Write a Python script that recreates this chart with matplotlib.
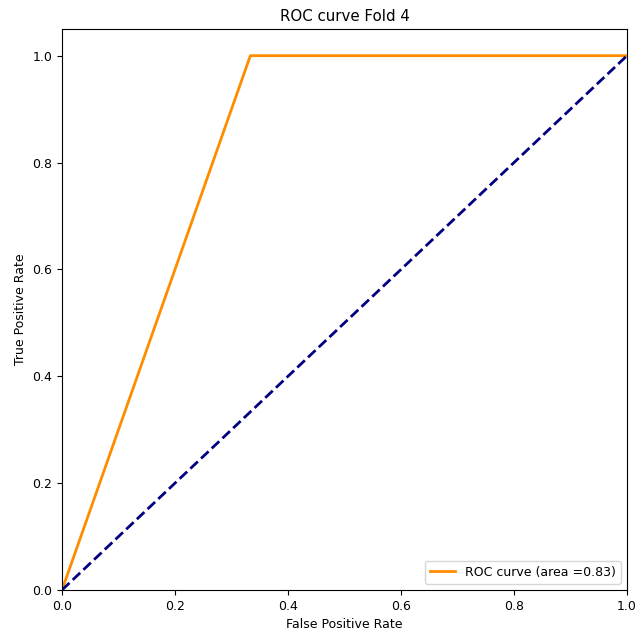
import numpy as np
import matplotlib as mpl
mpl.use('Agg')
import matplotlib.pyplot as plt

fpr = [0.0, 1/3, 1.0]
tpr = [0.0, 1.0, 1.0]
roc_auc = 0.83
fold = 4

plt.rcParams['font.size'] = 9

fig = plt.figure(figsize=(6.38, 6.35), dpi=100)
ax = fig.add_axes([0.0972, 0.0709, 0.8856, 0.8835])
ax.plot(fpr, tpr, color='darkorange', lw=2, label='ROC curve (area =%0.2f)' % roc_auc)
ax.plot([0, 1], [0, 1], color='navy', lw=2, linestyle='--')
ax.set_xlim([0.0, 1.0])
ax.set_ylim([0.0, 1.05])
ax.set_xlabel('False Positive Rate')
ax.set_ylabel('True Positive Rate')
ax.set_title('ROC curve Fold %d' % fold)
ax.legend(loc='lower right')
fig.savefig('out.png', dpi=100)
